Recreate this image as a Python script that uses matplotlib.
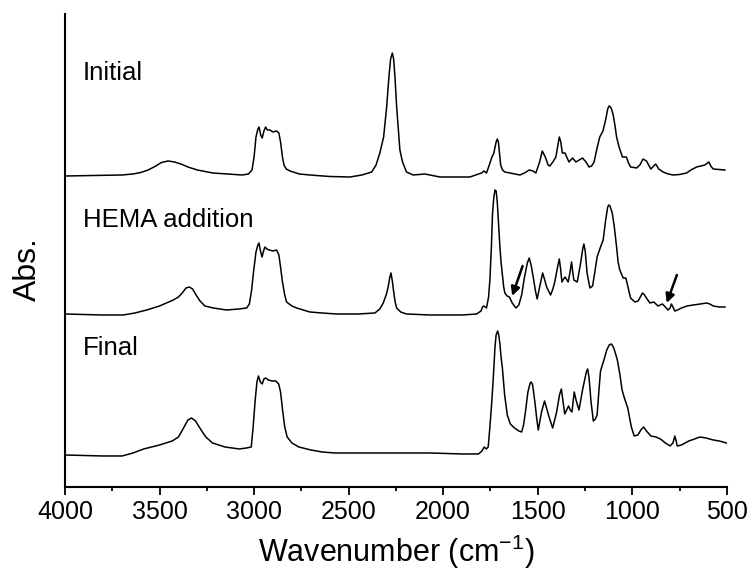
import numpy as np
import matplotlib
matplotlib.use('Agg')
import matplotlib.pyplot as plt

plt.rcParams['font.family'] = ['Liberation Sans', 'DejaVu Sans']

# spectra: (wavenumber, offset absorbance in arbitrary units)
initial_pts = [
    (4000, 311), (3700, 312), (3640, 313), (3600, 314.5), (3560, 317), (3520, 321), (3490, 324.5),
    (3455, 326), (3420, 325), (3380, 322.5), (3350, 320), (3300, 317), (3218, 314), (3140, 313),
    (3064, 312), (3030, 313), (3011, 317), (3000, 330), (2990, 350), (2980, 358), (2974, 360),
    (2965, 352), (2957, 349), (2948, 356), (2939, 360), (2930, 357), (2916, 357), (2900, 355),
    (2881, 356), (2869, 354), (2860, 345), (2850, 330), (2842, 322), (2830, 318), (2810, 316),
    (2760, 313), (2705, 312), (2600, 310.5), (2493, 310), (2430, 312), (2378, 315), (2355, 322),
    (2335, 334), (2315, 350), (2299, 380), (2287, 410), (2278, 428), (2269, 434), (2262, 428),
    (2255, 410), (2246, 380), (2236, 355), (2229, 337), (2215, 325), (2194, 315), (2158, 312),
    (2097, 313), (2017, 310), (1859, 310), (1797, 314), (1785, 316), (1771, 314), (1756, 322),
    (1744, 329), (1732, 334), (1720, 345), (1714, 348), (1708, 345), (1703, 335), (1696, 322),
    (1686, 317), (1674, 315), (1647, 314), (1594, 312), (1570, 314), (1545, 317), (1525, 316),
    (1510, 314), (1490, 325), (1476, 336), (1460, 330), (1445, 322), (1436, 321), (1420, 325),
    (1404, 330), (1392, 343), (1386, 350), (1378, 345), (1370, 334), (1356, 334), (1335, 325),
    (1316, 329), (1298, 325), (1280, 327), (1263, 329), (1245, 325), (1229, 320), (1215, 321),
    (1202, 325), (1185, 340), (1172, 350), (1155, 356), (1140, 368), (1130, 378), (1123, 381),
    (1115, 380), (1108, 377), (1101, 372), (1092, 362), (1083, 350), (1070, 340), (1052, 330),
    (1031, 330), (1020, 324), (1009, 320), (977, 319), (960, 322), (943, 328), (925, 326),
    (902, 318), (876, 323), (860, 318), (837, 315), (810, 313), (784, 312), (750, 312.5),
    (713, 314), (690, 317), (660, 320), (616, 322), (595, 325), (585, 321), (572, 318), (510, 317),
]

hema_pts = [
    (4000, 173), (3800, 172), (3692, 172), (3630, 174), (3568, 177), (3500, 181), (3427, 187),
    (3400, 190), (3380, 194), (3360, 199), (3343, 200), (3325, 198), (3310, 193), (3286, 186),
    (3260, 181), (3216, 179), (3145, 177), (3080, 178), (3039, 179), (3025, 183), (3013, 197),
    (3003, 215), (2990, 235), (2980, 242), (2974, 244), (2966, 236), (2958, 230), (2950, 236),
    (2943, 240), (2932, 238), (2920, 237), (2900, 236), (2881, 237), (2869, 232), (2860, 220),
    (2850, 205), (2838, 192), (2828, 185), (2800, 181), (2775, 179), (2705, 175), (2640, 174),
    (2564, 173), (2450, 173), (2361, 174), (2335, 178), (2317, 184), (2300, 193), (2291, 200),
    (2283, 209), (2276, 214), (2269, 206), (2261, 194), (2254, 185), (2246, 179), (2225, 175),
    (2194, 173), (2070, 172), (1900, 172), (1823, 173), (1800, 176), (1792, 180), (1785, 181),
    (1771, 179), (1760, 190), (1753, 207), (1745, 240), (1739, 274), (1732, 290), (1726, 297),
    (1720, 296), (1714, 285), (1708, 265), (1700, 240), (1694, 225), (1688, 214), (1680, 200),
    (1674, 194), (1662, 191), (1650, 190), (1635, 184), (1615, 179), (1600, 182), (1585, 192),
    (1570, 210), (1555, 224), (1545, 229), (1535, 222), (1524, 210), (1512, 196), (1503, 188),
    (1490, 200), (1474, 214), (1463, 207), (1453, 200), (1432, 192), (1420, 198), (1410, 205),
    (1395, 220), (1386, 228), (1379, 218), (1372, 205), (1363, 208), (1355, 210), (1339, 205),
    (1330, 214), (1321, 225), (1315, 215), (1309, 207), (1291, 205), (1275, 222), (1262, 238),
    (1256, 243), (1249, 236), (1239, 214), (1224, 199), (1210, 201), (1198, 215), (1186, 230),
    (1168, 240), (1154, 247), (1140, 268), (1130, 280), (1124, 282), (1118, 281), (1106, 274),
    (1095, 260), (1083, 240), (1075, 225), (1066, 217), (1048, 209), (1034, 209), (1020, 198),
    (1009, 189), (986, 185), (969, 186), (946, 194), (935, 192), (925, 189), (907, 184),
    (886, 185), (864, 181), (841, 183), (825, 180), (811, 177), (800, 179), (793, 183),
    (785, 180), (775, 176), (760, 177), (740, 179), (710, 181), (678, 182), (640, 183),
    (607, 184), (590, 183), (572, 181), (540, 180), (510, 180),
]

final_pts = [
    (4000, 32), (3800, 31), (3698, 31), (3640, 34), (3584, 38), (3500, 42), (3433, 46),
    (3400, 50), (3370, 60), (3350, 67), (3331, 69), (3310, 66), (3290, 60), (3270, 54),
    (3255, 50), (3220, 44), (3154, 40), (3078, 38), (3040, 39), (3015, 40), (3005, 60),
    (2995, 85), (2985, 105), (2977, 111), (2967, 105), (2957, 103), (2948, 108), (2939, 109),
    (2925, 107), (2905, 106), (2885, 106), (2870, 103), (2860, 95), (2850, 78), (2838, 60),
    (2825, 50), (2800, 44), (2763, 40), (2700, 37), (2640, 35), (2572, 34), (2300, 34),
    (2066, 34), (1900, 33), (1813, 33), (1795, 36), (1783, 40), (1772, 38), (1762, 40),
    (1753, 60), (1745, 80), (1738, 100), (1732, 119), (1726, 140), (1720, 152), (1712, 156),
    (1706, 152), (1700, 143), (1694, 130), (1687, 119), (1675, 92), (1661, 72), (1645, 63),
    (1623, 59), (1600, 56), (1585, 55), (1575, 62), (1565, 75), (1552, 95), (1540, 104),
    (1534, 105), (1527, 102), (1515, 85), (1505, 68), (1497, 57), (1480, 75), (1464, 86),
    (1452, 78), (1440, 70), (1421, 59), (1400, 75), (1385, 92), (1375, 98), (1366, 85),
    (1357, 73), (1337, 81), (1328, 77), (1319, 75), (1307, 95), (1296, 86), (1282, 77),
    (1262, 98), (1243, 115), (1236, 118), (1229, 110), (1218, 85), (1206, 66), (1195, 68),
    (1186, 72), (1175, 100), (1168, 116), (1150, 127), (1135, 137), (1122, 142), (1110, 143),
    (1098, 139), (1088, 133), (1079, 127), (1065, 112), (1054, 97), (1040, 88), (1024, 79),
    (1005, 60), (990, 51), (970, 52), (955, 57), (940, 60), (925, 56), (902, 51), (875, 50),
    (851, 48), (825, 44), (800, 41), (785, 44), (775, 51), (768, 46), (762, 41), (740, 42),
    (701, 46), (670, 48), (643, 50), (610, 49), (572, 47), (540, 46), (502, 44),
]

labels = ['Initial', 'HEMA addition', 'Final']
label_y = [414, 267, 139]

# arrows on the HEMA trace: (tail wn, tail y, head wn, head y)
arrows = [(1580, 221, 1635, 191), (764, 212, 818, 184)]

fig = plt.figure(figsize=(7.47, 5.74), dpi=100)
ax = fig.add_axes([0.087, 0.1516, 0.886, 0.824])

for pts in [initial_pts, hema_pts, final_pts]:
    wn, ab = zip(*pts)
    ax.plot(wn, ab, color='black', linewidth=1.1)

for text, y in zip(labels, label_y):
    ax.text(3905, y, text, fontsize=18.5, ha='left', va='center')

for x0, y0, x1, y1 in arrows:
    ax.annotate('', xy=(x1, y1), xytext=(x0, y0),
                arrowprops=dict(arrowstyle='-|>', color='black', lw=1.8,
                                mutation_scale=13, shrinkA=0, shrinkB=0))

ax.set_xlim(4000, 500)
ax.set_ylim(0, 473)
ax.set_xticks(np.arange(4000, 499, -500))
ax.set_xticks(np.arange(3750, 500, -500), minor=True)
ax.set_yticks([])

ax.spines['top'].set_visible(False)
ax.spines['right'].set_visible(False)
ax.spines['left'].set_linewidth(1.5)
ax.spines['bottom'].set_linewidth(1.5)

ax.tick_params(axis='x', which='major', direction='out', length=5.5, width=1.3,
               labelsize=18, pad=4)
ax.tick_params(axis='x', which='minor', direction='out', length=3, width=1.3)

ax.set_xlabel('Wavenumber (cm$^{\\mathregular{-1}}$)', fontsize=22, labelpad=6)
ax.set_ylabel('Abs.', fontsize=23)
ax.yaxis.set_label_coords(-0.034, 0.46)

plt.savefig('out.png', dpi=100)
